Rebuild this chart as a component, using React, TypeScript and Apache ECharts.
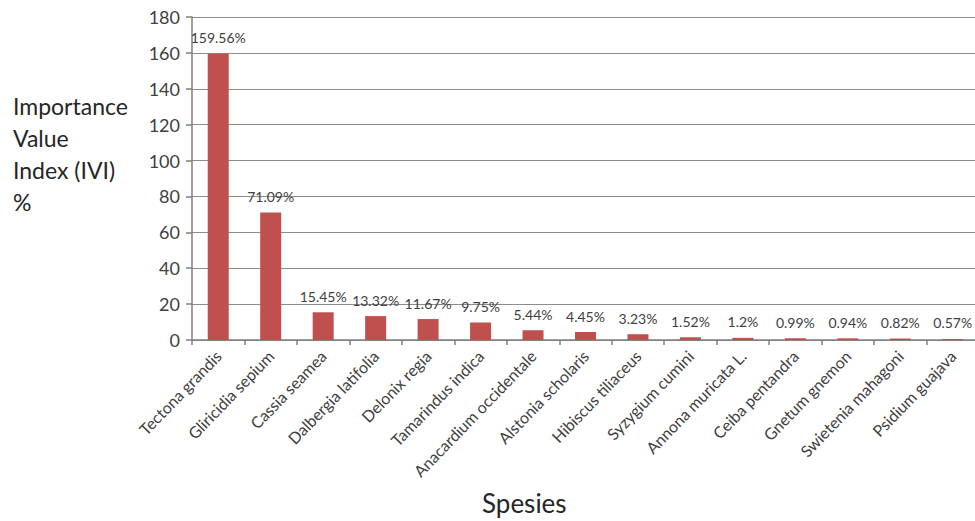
import React, { useEffect, useRef } from "react";
import * as echarts from "echarts";

const species = [
  "Tectona grandis",
  "Gliricidia sepium",
  "Cassia seamea",
  "Dalbergia latifolia",
  "Delonix regia",
  "Tamarindus indica",
  "Anacardium occidentale",
  "Alstonia scholaris",
  "Hibiscus tiliaceus",
  "Syzygium cumini",
  "Annona muricata L.",
  "Ceiba pentandra",
  "Gnetum gnemon",
  "Swietenia mahagoni",
  "Psidium guajava",
];

const ivi = [159.56, 71.09, 15.45, 13.32, 11.67, 9.75, 5.44, 4.45, 3.23, 1.52, 1.2, 0.99, 0.94, 0.82, 0.57];

const yTitleLines = ["Importance", "Value", "Index (IVI)", "%"];
const xTitle = "Spesies";

const FONT = "Lato, 'Open Sans', sans-serif";

export default function App() {
  const ref = useRef<HTMLDivElement>(null);

  useEffect(() => {
    if (!ref.current) return;
    const chart = echarts.init(ref.current, undefined, { renderer: "svg" });
    chart.setOption({
      animation: false,
      backgroundColor: "#ffffff",
      textStyle: { fontFamily: FONT },
      grid: { left: 192, top: 17, bottom: 181, width: 787, containLabel: false, outerBoundsMode: "none" },
      xAxis: {
        type: "category",
        data: species,
        boundaryGap: true,
        axisLine: { show: true, lineStyle: { color: "#7f7f7f", width: 1.5 } },
        axisTick: { show: true, length: 5, lineStyle: { color: "#7f7f7f", width: 1.5 } },
        axisLabel: {
          rotate: 46,
          interval: 0,
          margin: 13,
          fontSize: 16,
          color: "#404040",
          fontFamily: FONT,
        },
      },
      yAxis: {
        type: "value",
        min: 0,
        max: 180,
        interval: 20,
        axisLine: { show: true, lineStyle: { color: "#7f7f7f", width: 1.5 } },
        axisTick: { show: true, length: 6, lineStyle: { color: "#7f7f7f", width: 1.5 } },
        splitLine: { show: true, lineStyle: { color: "#8c8c8c", width: 1.2 } },
        axisLabel: { fontSize: 18, color: "#404040", margin: 12, fontFamily: FONT },
      },
      graphic: [
        ...yTitleLines.map((t, i) => ({
          type: "text",
          left: 13,
          top: 94 + i * 32,
          style: { text: t, fontSize: 23, fill: "#262626", fontFamily: FONT },
        })),
        {
          type: "text",
          left: 482,
          top: 490,
          style: { text: xTitle, fontSize: 26, fill: "#262626", fontFamily: FONT },
        },
      ],
      series: [
        {
          type: "bar",
          data: ivi,
          barWidth: 21,
          itemStyle: { color: "#C0504D" },
          label: {
            show: true,
            position: "top",
            distance: 9,
            formatter: (p: any) => `${p.value}%`,
            fontSize: 14,
            color: "#404040",
            fontFamily: FONT,
          },
        },
      ],
    });
    return () => chart.dispose();
  }, []);

  return (
    <div
      ref={ref}
      style={{ position: "fixed", left: 0, top: 0, width: 975, height: 521, background: "#fff" }}
    />
  );
}
